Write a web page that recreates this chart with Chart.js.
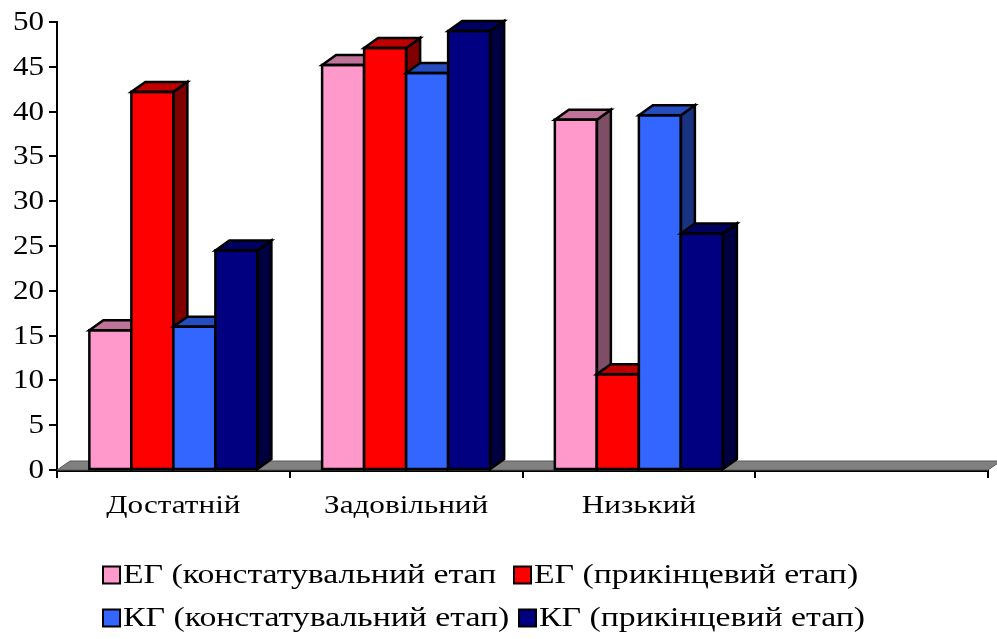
<!DOCTYPE html>
<html>
<head>
<meta charset="utf-8">
<script src="https://cdn.jsdelivr.net/npm/chart.js@4/dist/chart.umd.min.js"></script>
<style>
  html, body { margin: 0; padding: 0; background: #fff; }
  #wrap { width: 997px; height: 639px; position: relative; }
</style>
</head>
<body>
<div id="wrap"><canvas id="c" width="997" height="639"></canvas></div>
<script>
// Categories (the fourth slot is an empty category on the axis)
const categories = ['Достатній', 'Задовільний', 'Низький', ''];

// Series values, %
const egConst = [15.6, 45.2, 39.1, null];
const egFinal = [42.2, 47.1, 10.7, null];
const kgConst = [16.0, 44.3, 39.6, null];
const kgFinal = [24.5, 49.0, 26.4, null];

const seriesNames = [
  'ЕГ (констатувальний етап',
  'ЕГ (прикінцевий етап)',
  'КГ (констатувальний етап)',
  'КГ (прикінцевий етап)'
];
const seriesColors = ['#FF99CC', '#FF0000', '#3366FF', '#000080'];

// Value axis range
const yMin = 0, yMax = 50, yStep = 5;

const FONT = '"Liberation Serif", "Times New Roman", serif';

function shade(hex, f) {
  const n = parseInt(hex.slice(1), 16);
  const r = Math.round(((n >> 16) & 255) * f);
  const g = Math.round(((n >> 8) & 255) * f);
  const b = Math.round((n & 255) * f);
  return `rgb(${r},${g},${b})`;
}

// Text drawn slightly widened, anchored at (x, y)
function wideText(ctx, text, x, y, sx) {
  ctx.save();
  ctx.translate(x, y);
  ctx.scale(sx, 1);
  ctx.fillText(text, 0, 0);
  ctx.restore();
}

// Extruded columns: every bar is repainted left to right (series order)
// as front + side + top, so each next column hides the previous side face.
const DX = 14, DY = -10;
const bar3d = {
  id: 'bar3d',
  afterDatasetsDraw(chart) {
    const ctx = chart.ctx;
    ctx.save();
    ctx.lineWidth = 2.5;
    ctx.lineJoin = 'miter';
    ctx.strokeStyle = '#000';
    chart.data.datasets.forEach((ds, di) => {
      const meta = chart.getDatasetMeta(di);
      const col = seriesColors[di];
      meta.data.forEach((bar, i) => {
        if (ds.data[i] == null) return;
        const p = bar.getProps(['x', 'y', 'base', 'width'], true);
        const l = p.x - p.width / 2, r = p.x + p.width / 2;
        // front face
        ctx.fillStyle = col;
        ctx.fillRect(l, p.y, p.width, p.base - p.y);
        // side face
        ctx.beginPath();
        ctx.moveTo(r, p.y);
        ctx.lineTo(r + DX, p.y + DY);
        ctx.lineTo(r + DX, p.base + DY);
        ctx.lineTo(r, p.base);
        ctx.closePath();
        ctx.fillStyle = shade(col, 0.5);
        ctx.fill();
        ctx.stroke();
        // top face
        ctx.beginPath();
        ctx.moveTo(l, p.y);
        ctx.lineTo(l + DX, p.y + DY);
        ctx.lineTo(r + DX, p.y + DY);
        ctx.lineTo(r, p.y);
        ctx.closePath();
        ctx.fillStyle = shade(col, 0.75);
        ctx.fill();
        ctx.stroke();
        // front outline
        ctx.strokeRect(l, p.y, p.width, p.base - p.y);
      });
    });
    ctx.restore();
  }
};

// Grey floor under the columns
const FDX = 13, FDY = -9;
const floor3d = {
  id: 'floor3d',
  beforeDatasetsDraw(chart) {
    const { left, right, bottom } = chart.chartArea;
    const ctx = chart.ctx;
    ctx.save();
    ctx.beginPath();
    ctx.moveTo(left, bottom);
    ctx.lineTo(right, bottom);
    ctx.lineTo(right + FDX, bottom + FDY);
    ctx.lineTo(left + FDX, bottom + FDY);
    ctx.closePath();
    ctx.fillStyle = '#808080';
    ctx.fill();
    ctx.lineWidth = 1;
    ctx.strokeStyle = '#5a5a5a';
    ctx.stroke();
    ctx.restore();
  }
};

// Axis labels, drawn at the positions the scales give
const TICK_FONT = 27, TICK_SX = 1.15;
const CAT_FONT = 26, CAT_SX = 1.2, CAT_Y = 506;
const axisLabels = {
  id: 'axisLabels',
  afterDraw(chart) {
    const ctx = chart.ctx;
    const ys = chart.scales.y, xs = chart.scales.x;
    ctx.save();
    ctx.fillStyle = '#000';
    ctx.textBaseline = 'middle';
    ctx.font = TICK_FONT + 'px ' + FONT;
    ctx.textAlign = 'right';
    ys.ticks.forEach((t) => {
      wideText(ctx, String(t.value), ys.left + ys.width - 13, ys.getPixelForValue(t.value) + 1, TICK_SX);
    });
    ctx.font = CAT_FONT + 'px ' + FONT;
    ctx.textAlign = 'center';
    categories.forEach((c, i) => {
      if (c) wideText(ctx, c, xs.getPixelForValue(i), CAT_Y, CAT_SX);
    });
    ctx.restore();
  }
};

// Two-row legend below the axis
const legendRows = [[0, 1], [2, 3]];
const legendRowY = [575, 618];
const legendColX = [[103, 514], [103, 519]];
const legendBox = 17;
const legendTextGap = 20;
const LEG_FONT = 27, LEG_SX = 1.25;
const legendPlugin = {
  id: 'legendRows',
  afterDraw(chart) {
    const ctx = chart.ctx;
    ctx.save();
    ctx.font = LEG_FONT + 'px ' + FONT;
    ctx.textBaseline = 'middle';
    ctx.textAlign = 'left';
    legendRows.forEach((row, ri) => {
      const cy = legendRowY[ri];
      row.forEach((si, ci) => {
        const x = legendColX[ri][ci];
        ctx.fillStyle = seriesColors[si];
        ctx.fillRect(x, cy - legendBox / 2, legendBox, legendBox);
        ctx.lineWidth = 2;
        ctx.strokeStyle = '#000';
        ctx.strokeRect(x, cy - legendBox / 2, legendBox, legendBox);
        ctx.fillStyle = '#000';
        wideText(ctx, seriesNames[si], x + legendTextGap, cy + 1, LEG_SX);
      });
    });
    ctx.restore();
  }
};

const seriesData = [egConst, egFinal, kgConst, kgFinal];

new Chart(document.getElementById('c'), {
  type: 'bar',
  data: {
    labels: categories,
    datasets: seriesData.map((d, i) => ({
      label: seriesNames[i],
      data: d,
      backgroundColor: seriesColors[i],
      borderColor: '#000',
      borderWidth: 0,
      categoryPercentage: 0.722,
      barPercentage: 1.0
    }))
  },
  options: {
    responsive: false,
    animation: false,
    events: [],
    layout: { padding: { top: 22, right: 9, left: 0, bottom: 0 } },
    plugins: {
      legend: { display: false },
      tooltip: { enabled: false },
      title: { display: false }
    },
    scales: {
      x: {
        z: 1,
        grid: {
          offset: true,
          drawOnChartArea: false,
          drawTicks: true,
          tickLength: 8,
          color: '#000',
          lineWidth: 2
        },
        border: { display: true, color: '#000', width: 3 },
        ticks: { display: false },
        afterFit(scale) { scale.height = 169; }
      },
      y: {
        min: yMin,
        max: yMax,
        grid: {
          drawOnChartArea: false,
          drawTicks: true,
          tickLength: 8,
          color: '#000',
          lineWidth: 2
        },
        border: { display: true, color: '#000', width: 2 },
        ticks: { display: false, stepSize: yStep },
        afterFit(scale) { scale.width = 57; }
      }
    }
  },
  plugins: [floor3d, bar3d, axisLabels, legendPlugin]
});
</script>
</body>
</html>
